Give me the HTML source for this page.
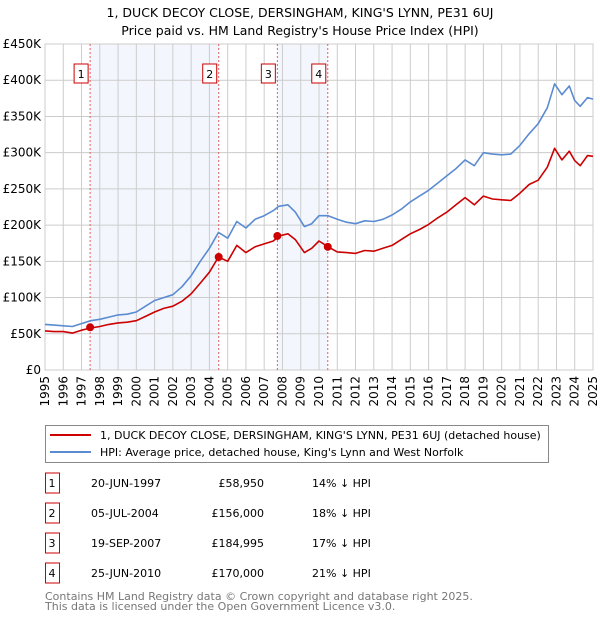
<!DOCTYPE html>
<html><head><meta charset="utf-8"><style>
body{margin:0;background:#fff;font-family:"DejaVu Sans","Liberation Sans",sans-serif;}
svg text{font-family:"DejaVu Sans","Liberation Sans",sans-serif;}
</style></head><body>
<svg id="c" width="600" height="620" xmlns="http://www.w3.org/2000/svg">
<text x="300" y="17" text-anchor="middle" font-size="12.5" fill="#000">1, DUCK DECOY CLOSE, DERSINGHAM, KING'S LYNN, PE31 6UJ</text>
<text x="300" y="35" text-anchor="middle" font-size="12.5" fill="#000">Price paid vs. HM Land Registry's House Price Index (HPI)</text>
<g id="plot"></g>
<g>
<rect x="45.5" y="425.5" width="503" height="37" fill="#fff" stroke="#888"/>
<line x1="50" y1="435" x2="91" y2="435" stroke="#cc0000" stroke-width="2"/>
<text x="100" y="439" font-size="11">1, DUCK DECOY CLOSE, DERSINGHAM, KING'S LYNN, PE31 6UJ (detached house)</text>
<line x1="50" y1="452" x2="91" y2="452" stroke="#5b8bd0" stroke-width="2"/>
<text x="100" y="456" font-size="11">HPI: Average price, detached house, King's Lynn and West Norfolk</text>
</g>
<g id="table"></g>
<text x="45" y="600" font-size="11" fill="#777">Contains HM Land Registry data © Crown copyright and database right 2025.</text>
<text x="45" y="610" font-size="11" fill="#777">This data is licensed under the Open Government Licence v3.0.</text>
</svg>
<script>
const hpiYears=[1995,1995.5,1996,1996.5,1997,1997.5,1998,1998.5,1999,1999.5,2000,2000.5,2001,2001.5,2002,2002.5,2003,2003.5,2004,2004.5,2005,2005.5,2006,2006.5,2007,2007.5,2007.8,2008.3,2008.7,2009.2,2009.6,2010,2010.5,2011,2011.5,2012,2012.5,2013,2013.5,2014,2014.5,2015,2015.5,2016,2016.5,2017,2017.5,2018,2018.5,2019,2019.5,2020,2020.5,2021,2021.5,2022,2022.5,2022.9,2023.3,2023.7,2024,2024.3,2024.7,2025];
const hpiVals=[63,62,61,60,64,68,70,73,76,77,80,88,96,100,104,115,130,150,168,190,182,205,196,208,213,220,226,228,218,198,202,213,213,208,204,202,206,205,208,214,222,232,240,248,258,268,278,290,282,300,298,297,298,310,326,340,362,395,380,392,372,364,376,374];
const propVals=[54,53,53,51,55,58,60,63,65,66,68,74,80,85,88,95,105,120,135,156,150,172,162,170,174,178,185,188,180,162,168,178,170,163,162,161,165,164,168,172,180,188,194,201,210,218,228,238,228,240,236,235,234,244,256,262,280,306,290,302,289,282,296,295];
const saleNums=["1","2","3","4"];
const saleYears=[1997.47,2004.51,2007.72,2010.48];
const salePrices=[58950,156000,184995,170000];
const saleDates=["20-JUN-1997","05-JUL-2004","19-SEP-2007","25-JUN-2010"];
const salePriceLabels=["£58,950","£156,000","£184,995","£170,000"];
const saleDiffs=["14% ↓ HPI","18% ↓ HPI","17% ↓ HPI","21% ↓ HPI"];
const yTicks=[0,50,100,150,200,250,300,350,400,450];
const yTickLabels=["£0","£50K","£100K","£150K","£200K","£250K","£300K","£350K","£400K","£450K"];
const xTicks=[1995,1996,1997,1998,1999,2000,2001,2002,2003,2004,2005,2006,2007,2008,2009,2010,2011,2012,2013,2014,2015,2016,2017,2018,2019,2020,2021,2022,2023,2024,2025];

const X0=45,X1=593,Y0=370,Y1=44;
const xs=y=>X0+(y-1995)/30*(X1-X0);
const ys=v=>Y0-v/450*(Y0-Y1);
const NS="http://www.w3.org/2000/svg";
const plot=document.getElementById('plot');
function mk(tag,attrs,parent){const e=document.createElementNS(NS,tag);for(const k in attrs)e.setAttribute(k,attrs[k]);(parent||plot).appendChild(e);return e;}

// shaded bands
for(let i=0;i<saleYears.length;i+=2){
  const r=mk('rect',{x:xs(saleYears[i]),y:Y1,width:xs(saleYears[i+1])-xs(saleYears[i]),height:Y0-Y1,fill:'#eef3fc',opacity:0.7});
  
  
}
// grid
yTicks.forEach((t,i)=>{
  const l=mk('line',{x1:X0,x2:X1,y1:ys(t),y2:ys(t),stroke:'#cccccc'});
  
  
  const tx=mk('text',{x:X0-4,y:ys(t)+4,'text-anchor':'end','font-size':'12',fill:'#000'});
  tx.textContent=yTickLabels[i];
  
  
});
xTicks.forEach(t=>{
  const l=mk('line',{x1:xs(t),x2:xs(t),y1:Y1,y2:Y0,stroke:'#cccccc'});
  
  
  const x=xs(t),y=Y0+6;
  const tx=mk('text',{x:x,y:y,'text-anchor':'end','font-size':'12',fill:'#000',transform:`rotate(-90 ${x} ${y}) translate(0 4)`});
  tx.textContent=t;
  
  
});
mk('rect',{x:X0,y:Y1,width:X1-X0,height:Y0-Y1,fill:'none',stroke:'#cccccc'});
// sale lines & markers
saleYears.forEach((y,i)=>{
  const l=mk('line',{x1:xs(y),x2:xs(y),y1:Y1,y2:Y0,stroke:'#e06060','stroke-dasharray':'2,2'});
  
  
  const bw=14,bh=19;
  const b=mk('rect',{x:xs(y)-bw-2,y:64,width:bw,height:bh,fill:'#fff',stroke:'#cc0000'});
  
  
  const t=mk('text',{x:xs(y)-bw/2-2,y:78,'text-anchor':'middle','font-size':'11'});
  t.textContent=saleNums[i];
  
  
});
function line(vals,color,name){
  const d=vals.map((v,i)=>(i?'L':'M')+xs(hpiYears[i]).toFixed(1)+','+ys(v).toFixed(1)).join('');
  const p=mk('path',{d:d,fill:'none',stroke:color,'stroke-width':1.6,'stroke-linejoin':'round'});
  
  
}
line(hpiVals,'#5b8bd0','hpi-line');
line(propVals,'#cc0000','property-price-line');
saleYears.forEach((y,i)=>{
  const c=mk('circle',{cx:xs(y),cy:ys(salePrices[i]/1000),r:4,fill:'#cc0000'});
  
  
});
// table
const tb=document.getElementById('table');
saleNums.forEach((n,i)=>{
  const cy=483+i*30;
  const r=mk('rect',{x:45.5,y:cy-10,width:14,height:20,fill:'#fff',stroke:'#cc0000'},tb);
  
  
  const cols=[[52,n,'middle','sale-number'],[91,saleDates[i],'start','sale-date'],[264,salePriceLabels[i],'end','sale-price'],[312,saleDiffs[i],'start','sale-hpi-diff']];
  cols.forEach(c=>{
    const t=mk('text',{x:c[0],y:cy+4,'text-anchor':c[2],'font-size':'11'},tb);
    t.textContent=c[1];
    
    
  });
});
</script>
</body></html>
